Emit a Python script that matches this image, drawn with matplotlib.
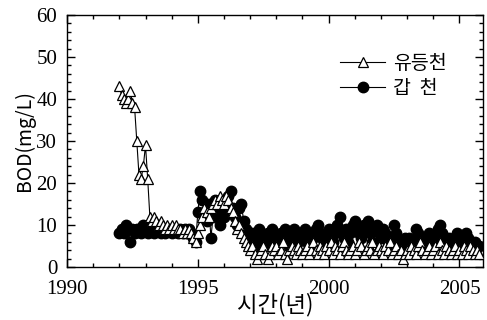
import matplotlib
matplotlib.use("Agg")
import matplotlib.pyplot as plt
import numpy as np
from matplotlib.ticker import MultipleLocator

# monthly samples starting Jan 1992
START_YEAR = 1992.0

yudeung = [
    43, 41, 40, 39, 40, 42, 39, 38, 30, 22, 21, 24,
    29, 21, 12, 11, 12, 11, 10, 11, 10, 9, 10, 9,
    10, 9, 10, 9, 9, 8, 9, 8, 9, 8, 7, 6,
    8, 10, 12, 14, 13, 12, 14, 15, 16, 15, 17, 16,
    15, 17, 16, 14, 13, 11, 9, 10, 8, 7, 6, 5,
    4, 5, 3, 2, 3, 4, 5, 3, 2, 3, 5, 4,
    5, 3, 4, 6, 3, 2, 4, 5, 4, 3, 5, 4,
    3, 4, 5, 3, 4, 6, 4, 3, 5, 4, 3, 5,
    4, 6, 3, 5, 4, 3, 5, 6, 4, 3, 4, 5,
    3, 4, 6, 5, 3, 4, 5, 4, 6, 3, 4, 5,
    4, 3, 5, 4, 6, 3, 4, 5, 3, 4, 2, 3,
    4, 3, 5, 4, 3, 5, 6, 4, 3, 4, 5, 3,
    4, 5, 3, 6, 4, 3, 5, 4, 3, 4, 5, 3,
    4, 3, 5, 4, 3, 5, 4, 3, 4, 3,
]

gapcheon = [
    8, 9, 8, 10, 9, 6, 9, 8, 9, 9, 8, 10,
    9, 8, 10, 9, 8, 9, 10, 8, 9, 8, 9, 9,
    8, 9, 9, 8, 9, 8, 9, 8, 9, 8, 7, 6,
    13, 18, 16, 13, 11, 15, 7, 12, 16, 13, 10, 14,
    12, 15, 17, 18, 14, 12, 10, 14, 15, 11, 9, 7,
    6, 8, 5, 7, 9, 6, 5, 7, 8, 6, 9, 7,
    5, 6, 8, 7, 9, 6, 5, 8, 9, 7, 6, 8,
    7, 9, 6, 5, 8, 7, 9, 10, 8, 7, 6, 8,
    9, 7, 6, 8, 10, 12, 8, 7, 9, 6, 8, 10,
    11, 9, 8, 7, 10, 9, 11, 8, 6, 9, 10, 8,
    7, 9, 8, 6, 5, 7, 10, 8, 6, 5, 6, 7,
    6, 7, 5, 6, 9, 8, 6, 7, 5, 6, 8, 7,
    6, 7, 9, 10, 8, 6, 5, 7, 6, 5, 6, 8,
    7, 6, 7, 8, 7, 6, 5, 6, 5, 5,
]

t1 = START_YEAR + np.arange(len(yudeung)) / 12.0
t2 = START_YEAR + np.arange(len(gapcheon)) / 12.0

KR = ["Noto Sans CJK KR", "DejaVu Sans"]

fig = plt.figure(figsize=(4.87, 3.2), dpi=100)
ax = fig.add_axes([0.1376, 0.1656, 0.8542, 0.7874])

ax.plot(t1, yudeung, color="black", linewidth=0.8, marker="^", markersize=7.5,
        markerfacecolor="white", markeredgecolor="black", markeredgewidth=0.9,
        label="유등천", zorder=3)
ax.plot(t2, gapcheon, color="black", linewidth=0.8, marker="o", markersize=7.5,
        markerfacecolor="black", markeredgecolor="black", label="갑  천", zorder=2)

ax.set_xlim(1990, 2005.9)
ax.set_ylim(0, 60)
ax.xaxis.set_major_locator(MultipleLocator(5))
ax.xaxis.set_minor_locator(MultipleLocator(1))
ax.yaxis.set_major_locator(MultipleLocator(10))
ax.yaxis.set_minor_locator(MultipleLocator(2))
ax.tick_params(which="both", direction="in", top=True, right=True, width=1.0)
ax.tick_params(which="major", length=6)
ax.tick_params(which="minor", length=3)
ax.tick_params(axis="x", which="major", pad=9)
ax.tick_params(axis="y", which="major", pad=7)
for lab in ax.get_xticklabels() + ax.get_yticklabels():
    lab.set_fontfamily("Liberation Serif")
    lab.set_fontsize(15)
for s in ax.spines.values():
    s.set_linewidth(1.0)

ax.set_ylabel("BOD(mg/L)", fontsize=14, family=KR, labelpad=1)
ax.set_xlabel("시간(년)", fontsize=16, family=KR, labelpad=-4)

leg = ax.legend(loc="upper left", bbox_to_anchor=(0.615, 0.92), frameon=False,
                prop={"family": KR, "size": 14},
                handlelength=2.3, handletextpad=0.4, labelspacing=0.2)

fig.savefig("out.png", dpi=100)
